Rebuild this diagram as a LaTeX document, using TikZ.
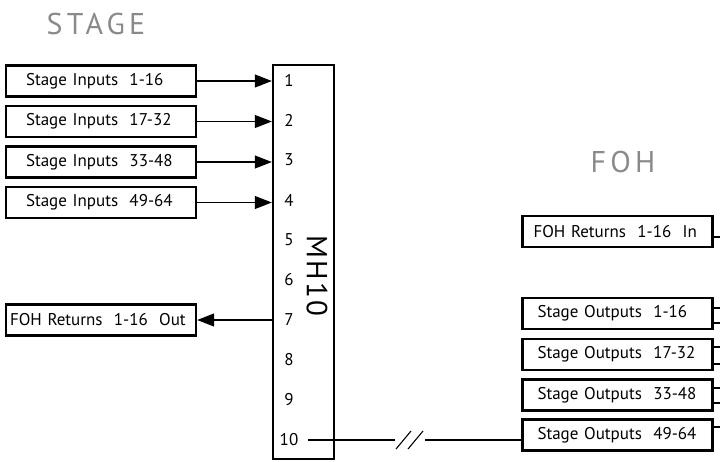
\documentclass[tikz,border=0pt]{standalone}
\usepackage{fontspec}
\setmainfont{PT Sans}
\newfontfamily\titlefont[LetterSpace=14]{PT Sans}
\newfontfamily\rackfont[LetterSpace=7]{PT Sans}
\usetikzlibrary{positioning, arrows.meta, calc}
\definecolor{titlegrey}{HTML}{8A8A8A}
\newcommand{\boxw}{190}
\newcommand{\rowy}{40}
\tikzset{
  % --- nodes ---
  box/.style      = {draw=black, line width=2.4pt, minimum height=31pt,
                     inner ysep=0pt, inner xsep=0pt, text width=\boxw pt,
                     align=left, execute at begin node={\hspace*{#1}},
                     font=\fontsize{17}{19}\selectfont},
  box/.default    = 20pt,
  rack/.style     = {draw=black, line width=2.4pt, minimum width=61pt,
                     minimum height=394pt, inner sep=0pt},
  port/.style     = {font=\fontsize{17}{19}\selectfont, inner sep=2pt},
  rackname/.style = {font=\rackfont\fontsize{29}{30}\selectfont, rotate=-90},
  title/.style    = {font=\titlefont\fontsize{30}{32}\selectfont, text=titlegrey},
  % --- edges ---
  sig/.style      = {-{Triangle[length=17pt, width=13pt]}, line width=1.1pt, black},
  wire/.style     = {line width=1.1pt, black},
}
\begin{document}
\begin{tikzpicture}[x=1pt, y=-1pt]
  \useasboundingbox (0,0) rectangle (720,461);

  % ===================================================================
  %  TITLES
  % ===================================================================
  \node[title] (stage) at (96, 24)  {STAGE};
  \node[title] (foh)   at (623, 162) {FOH};

  % ===================================================================
  %  MH10 RACK + PORT NUMBERS
  % ===================================================================
  \node[rack] (mh) at (303.5, 262) {};
  \node[rackname] (mhname) at (317, 276) {MH10};
  \foreach \i in {1,...,10}
    \node[port] (p\i) at (289, {80+\rowy*(\i-1)}) {\i};

  % ===================================================================
  %  STAGE SIDE
  % ===================================================================
  \foreach \i/\r in {1/1-16, 2/17-32, 3/33-48, 4/49-64} {
    \node[box] (in\i) at (101, {81+40.5*(\i-1)}) {Stage Inputs~~\r};
    \draw[sig] (in\i.east) -- (in\i.east -| mh.west);
  }
  \node[box=4pt] (fohout) at (101, 320) {FOH Returns~~1-16~~Out};
  \draw[sig] (mh.west |- p7) -- (fohout.east);

  % ===================================================================
  %  FOH SIDE
  % ===================================================================
  \node[box=11pt] (fohin) at (617.5, 231.5) {FOH Returns~~1-16~~In};
  \node[box=15pt] (so1) at (617.5, 313.5) {Stage Outputs~~1-16};
  \node[box=15pt] (so2) at (617.5, 354.5) {Stage Outputs~~17-32};
  \node[box=15pt] (so3) at (617.5, 395)   {Stage Outputs~~33-48};
  \node[box=15pt] (so4) at (617.5, 435)   {Stage Outputs~~49-64};

  % --- stubs leaving the right edge ---
  \coordinate (rim) at (720, 0);
  \draw[wire] ([yshift=-5.5pt]fohin.east) -- ([yshift=-5.5pt]fohin.east -| rim);
  \foreach \n/\s in {so1/5.5, so1/-9.5, so2/7.5, so2/-9.5, so3/7, so3/-8, so4/8}
    \draw[wire] ([yshift=\s pt]\n.east) -- ([yshift=\s pt]\n.east -| rim);

  % ===================================================================
  %  LONG RUN  (port 10 -> Stage Outputs 49-64, with break)
  % ===================================================================
  \coordinate (brkL) at (395, 440);
  \coordinate (brkR) at (425, 440);
  \draw[wire, shorten <=8pt] (p10.east) -- (brkL);
  \draw[wire] ([xshift=1pt, yshift=-9pt]brkL) -- ++(15,-18);
  \draw[wire] ([xshift=13pt, yshift=-9pt]brkL) -- ++(15,-18);
  \draw[wire] (brkR) -- (brkR -| so4.west);

\end{tikzpicture}
\end{document}
